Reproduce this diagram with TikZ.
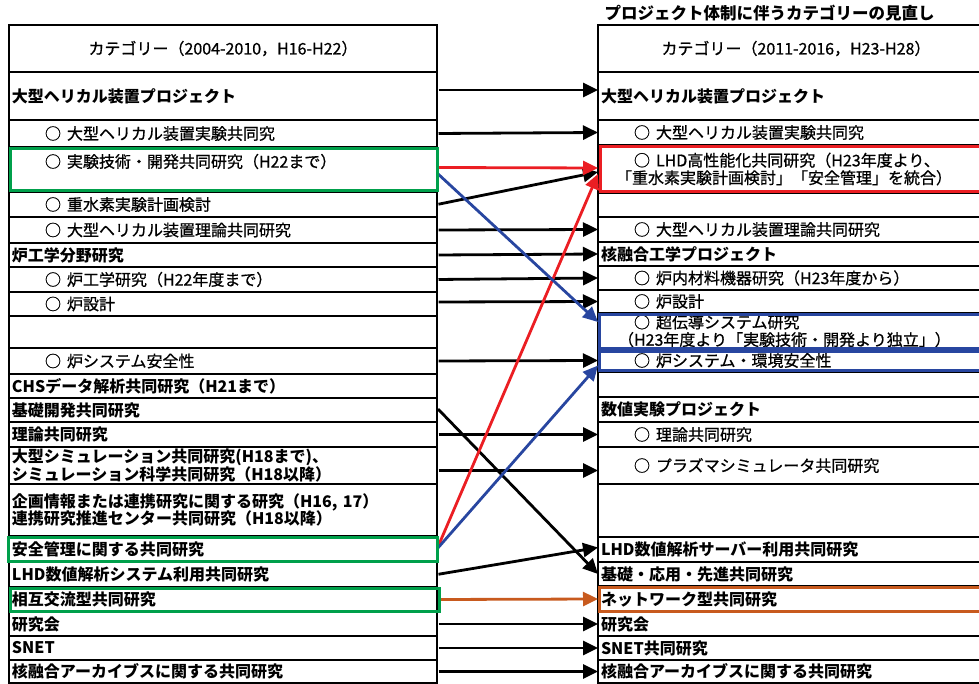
\documentclass[tikz,border=0pt]{standalone}
\usepackage{fontspec}
\setmainfont{Noto Sans CJK JP}
\newfontfamily\medfont{Noto Sans CJK JP}[FakeBold=0.8]
\usetikzlibrary{positioning,arrows.meta}
\definecolor{grnline}{RGB}{0,160,75}
\definecolor{redline}{RGB}{235,30,35}
\definecolor{blueline}{RGB}{40,70,160}
\definecolor{orgline}{RGB}{200,90,30}
\newcommand{\rowfont}{\fontsize{16}{17.5}\selectfont}
\newcommand{\itm}{\hspace*{33pt}○\hspace{6pt}}
\tikzset{
  catarr/.style={-{Triangle[length=15pt,width=14pt]},line width=2.8pt,shorten <=1.5pt},
  lcell/.style={draw=black,line width=1.3pt,anchor=north west,outer sep=0pt,
                minimum width=428pt,text width=422pt,inner xsep=3pt,inner ysep=0pt,
                align=left,font=\rowfont\medfont},
  rcell/.style={lcell,minimum width=396pt,text width=390pt},
  hdcell/.style={align=center},
  toprow/.style={font=\rowfont\bfseries},
  hlbox/.style={line width=3pt}
}

\begin{document}
\begin{tikzpicture}[x=1pt,y=-1pt]
\useasboundingbox (0,0) rectangle (979,684);
\clip (0,0) rectangle (979,684);

\node[anchor=west,font=\fontsize{16.5}{18}\selectfont\bfseries] (title) at (601,13)
   {プロジェクト体制に伴うカテゴリーの見直し};

% left table
\node[lcell,hdcell,minimum height=47pt] (L0) at (9,25) {カテゴリー（2004-2010，H16-H22）};
\node[lcell,toprow,minimum height=48pt] (L1) at (L0.south west) {大型ヘリカル装置プロジェクト};
\node[lcell,minimum height=27pt] (L2) at (L1.south west) {\itm 大型ヘリカル装置実験共同究};
\node[lcell,minimum height=45pt] (L3) at (L2.south west) {\itm 実験技術・開発共同研究（H22まで）\\\mbox{}};
\node[lcell,minimum height=25pt] (L4) at (L3.south west) {\itm 重水素実験計画検討};
\node[lcell,minimum height=26pt] (L5) at (L4.south west) {\itm 大型ヘリカル装置理論共同研究};
\node[lcell,toprow,minimum height=24pt] (L6) at (L5.south west) {炉工学分野研究};
\node[lcell,minimum height=25pt] (L7) at (L6.south west) {\itm 炉工学研究（H22年度まで）};
\node[lcell,minimum height=24pt] (L8) at (L7.south west) {\itm 炉設計};
\node[lcell,minimum height=32pt] (L9) at (L8.south west) {};
\node[lcell,minimum height=26pt] (L10) at (L9.south west) {\itm 炉システム安全性};
\node[lcell,toprow,minimum height=24pt] (L11) at (L10.south west) {CHSデータ解析共同研究（H21まで）};
\node[lcell,toprow,minimum height=24pt] (L12) at (L11.south west) {基礎開発共同研究};
\node[lcell,toprow,minimum height=25pt] (L13) at (L12.south west) {理論共同研究};
\node[lcell,toprow,minimum height=37pt] (L14) at (L13.south west)
   {大型シミュレーション共同研究(H18まで)、\\シミュレーション科学共同研究（H18以降）};
\node[lcell,toprow,minimum height=52pt] (L15) at (L14.south west)
   {企画情報または連携研究に関する研究（H16, 17）\\連携研究推進センター共同研究（H18以降）};
\node[lcell,toprow,minimum height=26pt] (L16) at (L15.south west) {安全管理に関する共同研究};
\node[lcell,toprow,minimum height=25pt] (L17) at (L16.south west) {LHD数値解析システム利用共同研究};
\node[lcell,toprow,minimum height=25pt] (L18) at (L17.south west) {相互交流型共同研究};
\node[lcell,toprow,minimum height=24pt] (L19) at (L18.south west) {研究会};
\node[lcell,toprow,minimum height=24pt] (L20) at (L19.south west) {SNET};
\node[lcell,toprow,minimum height=23pt] (L21) at (L20.south west) {核融合アーカイブスに関する共同研究};

% right table
\node[rcell,hdcell,minimum height=47pt] (R0) at (598,25) {カテゴリー（2011-2016，H23-H28）};
\node[rcell,toprow,minimum height=48pt] (R1) at (R0.south west) {大型ヘリカル装置プロジェクト};
\node[rcell,minimum height=25pt] (R2) at (R1.south west) {\itm 大型ヘリカル装置実験共同究};
\node[rcell,minimum height=48pt] (R3) at (R2.south west)
   {\itm LHD高性能化共同研究（H23年度より、\\\hspace*{15pt}「重水素実験計画検討」「安全管理」を統合）};
\node[rcell,minimum height=24pt] (R4) at (R3.south west) {};
\node[rcell,minimum height=25pt] (R5) at (R4.south west) {\itm 大型ヘリカル装置理論共同研究};
\node[rcell,toprow,minimum height=24pt] (R6) at (R5.south west) {核融合工学プロジェクト};
\node[rcell,minimum height=24pt] (R7) at (R6.south west) {\itm 炉内材料機器研究（H23年度から）};
\node[rcell,minimum height=23pt] (R8) at (R7.south west) {\itm 炉設計};
\node[rcell,minimum height=36pt] (R9) at (R8.south west)
   {\itm 超伝導システム研究\\\hspace*{17pt}（H23年度より「実験技術・開発より独立」）};
\node[rcell,minimum height=23pt] (R10) at (R9.south west) {\itm 炉システム・環境安全性};
\node[rcell,minimum height=25pt] (R11) at (R10.south west) {};
\node[rcell,toprow,minimum height=25pt] (R12) at (R11.south west) {数値実験プロジェクト};
\node[rcell,minimum height=25pt] (R13) at (R12.south west) {\itm 理論共同研究};
\node[rcell,minimum height=37pt] (R14) at (R13.south west) {\itm プラズマシミュレータ共同研究};
\node[rcell,minimum height=53pt] (R15) at (R14.south west) {};
\node[rcell,toprow,minimum height=25pt] (R16) at (R15.south west) {LHD数値解析サーバー利用共同研究};
\node[rcell,toprow,minimum height=24pt] (R17) at (R16.south west) {基礎・応用・先進共同研究};
\node[rcell,toprow,minimum height=26pt] (R18) at (R17.south west) {ネットワーク型共同研究};
\node[rcell,toprow,minimum height=24pt] (R19) at (R18.south west) {研究会};
\node[rcell,toprow,minimum height=24pt] (R20) at (R19.south west) {SNET共同研究};
\node[rcell,toprow,minimum height=23pt] (R21) at (R20.south west) {核融合アーカイブスに関する共同研究};

% black arrows
\draw[catarr] ([yshift=6pt]L1.east) -- ([yshift=6pt]R1.west);
\draw[catarr] (L2.east) -- (R2.west);
\draw[catarr] (L4.east) -- ([yshift=-3pt]R3.west);
\draw[catarr] (L5.east) -- (R5.west);
\draw[catarr] (L6.east) -- (R6.west);
\draw[catarr] (L7.east) -- (R7.west);
\draw[catarr] ([yshift=2pt]L8.east) -- (R8.west);
\draw[catarr] (L10.east) -- (R10.west);
\draw[catarr] ([yshift=2pt]L12.east) -- (R17.west);
\draw[catarr] (L13.east) -- (R13.west);
\draw[catarr] ([yshift=-5pt]L14.east) -- ([yshift=-5pt]R14.west);
\draw[catarr] (L17.east) -- ([yshift=2pt]R16.west);
\draw[catarr] (L19.east) -- (R19.west);
\draw[catarr] (L20.east) -- (R20.west);
\draw[catarr] (L21.east) -- (R21.west);

% coloured arrows
\draw[catarr,draw=redline,fill=redline] ([yshift=2pt]L3.east) -- ([yshift=1pt]R3.west);
\draw[catarr,draw=redline,fill=redline] (L16.east) -- ([yshift=-5pt]R3.west);
\draw[catarr,draw=blueline,fill=blueline] ([yshift=-3.5pt]L3.east) -- ([yshift=9pt]R9.west);
\draw[catarr,draw=blueline,fill=blueline] (L16.east) -- ([yshift=-5pt]R10.west);
\draw[catarr,draw=orgline,fill=orgline] (L18.east) -- (R18.west);

% highlight boxes
\draw[hlbox,draw=grnline] ([shift={(1,1.5)}]L3.north west) rectangle ([shift={(0,-1.5)}]L3.south east);
\draw[hlbox,draw=grnline] ([shift={(-1,1)}]L16.north west) rectangle ([shift={(0,-1)}]L16.south east);
\draw[hlbox,draw=grnline] ([shift={(1,1)}]L18.north west) rectangle ([shift={(2,-1)}]L18.south east);
\draw[hlbox,draw=redline] ([shift={(2,1.5)}]R3.north west) rectangle ([shift={(0,-1.5)}]R3.south east);
\draw[hlbox,draw=blueline] ([shift={(1.5,1.5)}]R9.north west) rectangle ([shift={(0,-1)}]R9.south east);
\draw[hlbox,draw=blueline] ([shift={(1.5,2)}]R10.north west) rectangle ([shift={(0,-1.5)}]R10.south east);
\draw[hlbox,draw=orgline] ([shift={(1,1)}]R18.north west) rectangle ([shift={(0,-1)}]R18.south east);
\end{tikzpicture}
\end{document}
